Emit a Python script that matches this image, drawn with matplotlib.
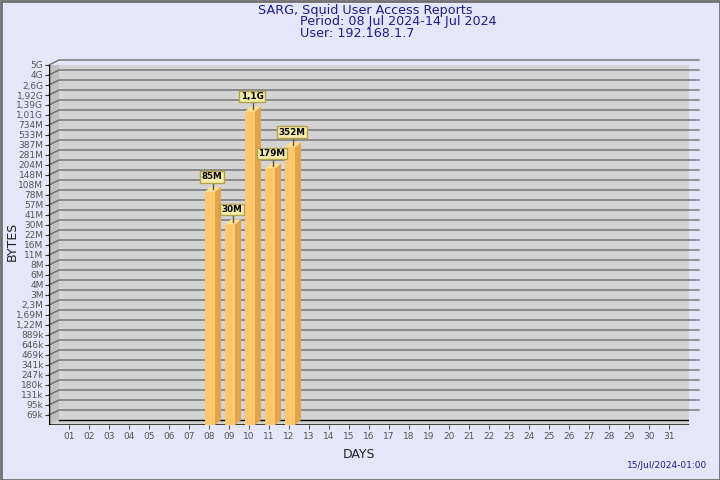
import matplotlib
matplotlib.use('Agg')
import matplotlib.pyplot as plt
import numpy as np
from matplotlib.patches import Polygon, Rectangle
from matplotlib.transforms import IdentityTransform

# data
days = [8, 9, 10, 11, 12]
bytes_used = [85e6, 30e6, 1.1e9, 179e6, 352e6]
value_labels = ['85M', '30M', '1,1G', '179M', '352M']
day_labels = ['%02d' % d for d in range(1, 32)]
ytick_labels = ['69k', '95k', '131k', '180k', '247k', '341k', '469k', '646k', '889k',
                '1,22M', '1,69M', '2,3M', '3M', '4M', '6M', '8M', '11M', '16M', '22M',
                '30M', '41M', '57M', '78M', '108M', '148M', '204M', '281M', '387M',
                '533M', '734M', '1,01G', '1,39G', '1,92G', '2,6G', '4G', '5G']

BASE = 50e3
RATIO = 1.3755
ytick_vals = [BASE * RATIO ** k for k in range(1, len(ytick_labels) + 1)]
YTOP = ytick_vals[-1]

BG = '#E6E6FA'
NAVY = '#1C1C8C'
DX, DY = 10, 5      # depth of the back wall in pixels
BDX, BDY = 6, 5     # depth of the bars

fig = plt.figure(figsize=(7.2, 4.8), dpi=100, facecolor=BG)
ax = fig.add_axes([49 / 720, 55 / 480, 640 / 720, 360 / 480])
ax.set_xlim(0, 32)
ax.set_yscale('log')
ax.set_ylim(BASE, YTOP)
ax.patch.set_visible(False)
for s in ax.spines.values():
    s.set_visible(False)

ax.set_yticks(ytick_vals)
ax.set_yticklabels(ytick_labels)
ax.yaxis.set_minor_locator(matplotlib.ticker.NullLocator())
ax.tick_params(axis='y', length=3, width=0.8, color='#333333', labelsize=6.5,
               labelcolor='#555555', pad=1)
ax.set_xticks(range(1, 32))
ax.set_xticklabels(day_labels)
ax.tick_params(axis='x', length=3, width=0.8, color='#555555', labelsize=6.5,
               labelcolor='#555555', pad=2)

ident = IdentityTransform()


def px(x, y, dx=0, dy=0):
    p = ax.transData.transform((x, y))
    return (p[0] + dx, p[1] + dy)


# side wall
wall = Polygon([px(0, BASE), px(0, YTOP), px(0, YTOP, DX, DY), px(0, BASE, DX, DY)],
               closed=True, facecolor='#C0C0C0', edgecolor='none', transform=ident, zorder=0)
ax.add_patch(wall)
# floor
floor = Polygon([px(0, BASE), px(32, BASE), px(32, BASE, DX, DY), px(0, BASE, DX, DY)],
                closed=True, facecolor='#D3D3D3', edgecolor='none', transform=ident, zorder=0)
ax.add_patch(floor)
# back wall
x0, y0 = px(0, BASE, DX, DY)
x1, y1 = px(32, YTOP, DX, DY)
ax.add_patch(Rectangle((x0, y0), x1 - x0, y1 - y0, facecolor='#D3D3D3',
                       edgecolor='none', transform=ident, zorder=0))

# grid lines on the wall and back
for v in ytick_vals:
    a = px(0, v)
    b = px(0, v, DX, DY)
    c = px(32, v, DX, DY)
    ax.plot([a[0], b[0], c[0]], [a[1], b[1], c[1]], color='#6E6E6E', lw=1,
            transform=ident, zorder=1, clip_on=False)

# frame lines
a = px(0, BASE, DX, DY); b = px(32, BASE, DX, DY)
ax.plot([a[0], b[0]], [a[1], b[1]], color='black', lw=1, transform=ident, zorder=1)
a = px(0, YTOP, DX, DY); b = px(32, YTOP, DX, DY)
ax.plot([a[0], b[0]], [a[1], b[1]], color='#606060', lw=1, transform=ident, zorder=1)
a = px(32, BASE, DX, DY); b = px(32, YTOP, DX, DY)
ax.plot([a[0], b[0]], [a[1], b[1]], color='black', lw=1, transform=ident, zorder=1)
a = px(0, BASE); b = px(32, BASE); c = px(32, BASE, DX, DY)
ax.plot([a[0], b[0], c[0]], [a[1], b[1], c[1]], color='black', lw=1, transform=ident, zorder=1)
a = px(0, YTOP); b = px(0, BASE)
ax.plot([a[0], b[0]], [a[1], b[1] - 5], color='black', lw=1, transform=ident, zorder=5)
ax.plot([b[0] - 4, b[0] + 3], [b[1], b[1]], color='black', lw=1, transform=ident, zorder=5)

# bars: front faces through the axis, then side and top faces
centers = [d + 0.05 for d in days]
bars = ax.bar(centers, [v - BASE for v in bytes_used], bottom=BASE, width=0.5,
              color='#FFC76B', edgecolor='none', zorder=3)
for c, v, lab in zip(centers, bytes_used, value_labels):
    l, r = c - 0.25, c + 0.25
    side = Polygon([px(r, BASE), px(r, v), px(r, v, BDX, BDY), px(r, BASE, BDX, BDY)],
                   closed=True, facecolor='#E3A44E', edgecolor='none', transform=ident, zorder=3)
    top = Polygon([px(l, v), px(r, v), px(r, v, BDX, BDY), px(l, v, BDX, BDY)],
                  closed=True, facecolor='#FFE08E', edgecolor='none', transform=ident, zorder=3)
    ax.add_patch(side)
    ax.add_patch(top)
    tc = px(c, v, BDX / 2, BDY / 2)
    lx, ly = tc[0] - 1, tc[1] + 12.5
    ax.plot([tc[0], tc[0]], [tc[1], ly - 5], color='#555555', lw=1, transform=ident, zorder=4)
    ax.text(lx, ly, lab, transform=ident, ha='center', va='center', fontsize=6.3,
            fontweight='bold', color='black', zorder=6,
            bbox=dict(boxstyle='square,pad=0.15', facecolor='#F5ECA8', edgecolor='#B2A24A', lw=1))

# titles and labels
fig.text(365 / 720, 1 - 10.5 / 480, 'SARG, Squid User Access Reports', ha='center', va='center',
         fontsize=9.2, color=NAVY)
fig.text(300 / 720, 1 - 22 / 480, 'Period: 08 Jul 2024-14 Jul 2024', ha='left', va='center',
         fontsize=9.2, color=NAVY)
fig.text(300 / 720, 1 - 33.5 / 480, 'User: 192.168.1.7', ha='left', va='center',
         fontsize=9.2, color=NAVY)
fig.text(12 / 720, 1 - 241 / 480, 'BYTES', rotation=90, ha='center', va='center',
         fontsize=9, color='#222222')
fig.text(359 / 720, 1 - 455 / 480, 'DAYS', ha='center', va='center', fontsize=9, color='#222222')
fig.text(707 / 720, 1 - 466 / 480, '15/Jul/2024-01:00', ha='right', va='center',
         fontsize=6.5, color=NAVY)

# outer border
fig.add_artist(Rectangle((0.5, 0.5), 719, 479, transform=IdentityTransform(), fill=False,
                         edgecolor='#707070', lw=2))

fig.savefig('out.png', dpi=100, facecolor=BG)
